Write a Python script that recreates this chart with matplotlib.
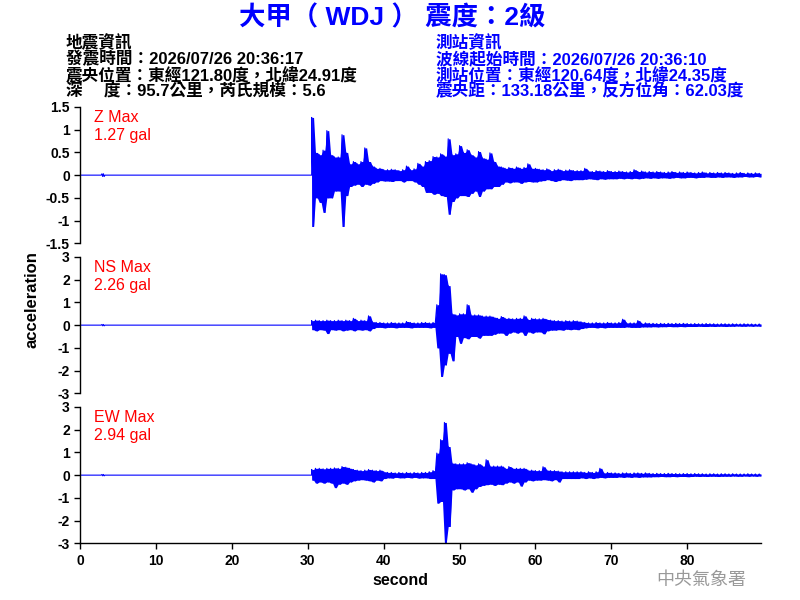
import numpy as np
import matplotlib
matplotlib.use("Agg")
import matplotlib.pyplot as plt
from matplotlib.ticker import FuncFormatter

plt.rcParams['font.family'] = ['Liberation Sans', 'Noto Sans CJK TC']

# peak readings (upper / lower) per 0.5 s bin, starting at 30.5 s
bin_start = 30.5
bin_step = 0.5

z_upper = [1.27, 0.5, 0.45, 0.55, 0.98, 0.45, 0.4, 0.4, 0.89, 0.5,
           0.25, 0.3, 0.25, 0.3, 0.6, 0.3, 0.2, 0.15, 0.15, 0.12,
           0.12, 0.13, 0.12, 0.1, 0.12, 0.2, 0.12, 0.14, 0.26, 0.2,
           0.3, 0.32, 0.41, 0.4, 0.47, 0.42, 0.8, 0.45, 0.47, 0.65,
           0.5, 0.56, 0.45, 0.4, 0.52, 0.38, 0.35, 0.49, 0.3, 0.2,
           0.18, 0.15, 0.17, 0.15, 0.18, 0.15, 0.17, 0.25, 0.15, 0.15,
           0.13, 0.12, 0.14, 0.1, 0.12, 0.13, 0.1, 0.11, 0.12, 0.1,
           0.1, 0.1, 0.15, 0.09, 0.08, 0.1, 0.09, 0.08, 0.1, 0.08,
           0.08, 0.09, 0.08, 0.07, 0.08, 0.12, 0.08, 0.09, 0.07, 0.08,
           0.07, 0.08, 0.07, 0.06, 0.07, 0.08, 0.06, 0.07, 0.06, 0.07,
           0.06, 0.05, 0.06, 0.07, 0.05, 0.06, 0.05, 0.06, 0.05, 0.06,
           0.05, 0.04, 0.05, 0.06, 0.04, 0.05, 0.04, 0.05, 0.04]
z_lower = [-1.13, -0.5, -0.6, -0.82, -0.5, -0.5, -0.35, -0.35, -1.13, -0.45,
           -0.25, -0.22, -0.2, -0.25, -0.2, -0.22, -0.18, -0.15, -0.12, -0.13,
           -0.13, -0.14, -0.12, -0.12, -0.15, -0.12, -0.12, -0.15, -0.2, -0.25,
           -0.38, -0.38, -0.42, -0.4, -0.45, -0.47, -0.86, -0.58, -0.5, -0.45,
           -0.45, -0.47, -0.4, -0.35, -0.47, -0.35, -0.3, -0.3, -0.25, -0.25,
           -0.2, -0.15, -0.17, -0.15, -0.15, -0.18, -0.15, -0.14, -0.15, -0.15,
           -0.13, -0.12, -0.1, -0.12, -0.14, -0.12, -0.1, -0.11, -0.12, -0.1,
           -0.1, -0.1, -0.09, -0.08, -0.09, -0.1, -0.08, -0.09, -0.08, -0.08,
           -0.08, -0.07, -0.08, -0.07, -0.08, -0.07, -0.08, -0.07, -0.06, -0.07,
           -0.06, -0.07, -0.06, -0.06, -0.07, -0.06, -0.05, -0.06, -0.06, -0.05,
           -0.05, -0.06, -0.05, -0.05, -0.04, -0.05, -0.05, -0.04, -0.05, -0.04,
           -0.04, -0.05, -0.04, -0.04, -0.03, -0.04, -0.04, -0.03, -0.04]

ns_upper = [0.2, 0.22, 0.2, 0.2, 0.22, 0.2, 0.2, 0.22, 0.2, 0.22,
            0.2, 0.3, 0.2, 0.22, 0.2, 0.41, 0.15, 0.12, 0.12, 0.1,
            0.1, 0.12, 0.1, 0.1, 0.1, 0.16, 0.12, 0.1, 0.1, 0.12,
            0.12, 0.1, 0.12, 0.9, 2.26, 2.22, 1.74, 0.5, 0.45, 0.5,
            0.5, 0.9, 0.45, 0.45, 0.45, 0.4, 0.4, 0.4, 0.35, 0.3,
            0.38, 0.3, 0.3, 0.28, 0.3, 0.3, 0.41, 0.25, 0.3, 0.28,
            0.28, 0.3, 0.25, 0.22, 0.2, 0.2, 0.18, 0.2, 0.18, 0.2,
            0.18, 0.15, 0.12, 0.1, 0.1, 0.12, 0.1, 0.1, 0.12, 0.1,
            0.1, 0.12, 0.26, 0.1, 0.1, 0.1, 0.2, 0.08, 0.1, 0.08,
            0.08, 0.07, 0.08, 0.07, 0.08, 0.07, 0.08, 0.07, 0.08, 0.07,
            0.06, 0.07, 0.06, 0.06, 0.07, 0.06, 0.06, 0.05, 0.06, 0.06,
            0.05, 0.06, 0.05, 0.05, 0.06, 0.05, 0.05, 0.04, 0.05]
ns_lower = [-0.2, -0.25, -0.2, -0.22, -0.37, -0.2, -0.22, -0.2, -0.25, -0.22,
            -0.2, -0.25, -0.2, -0.22, -0.2, -0.25, -0.15, -0.1, -0.1, -0.12,
            -0.1, -0.1, -0.12, -0.1, -0.1, -0.1, -0.12, -0.1, -0.1, -0.1,
            -0.1, -0.12, -0.1, -1.0, -2.26, -1.75, -1.24, -1.57, -0.5, -0.8,
            -0.55, -0.6, -0.5, -0.5, -0.57, -0.45, -0.45, -0.45, -0.4, -0.35,
            -0.35, -0.45, -0.35, -0.3, -0.35, -0.3, -0.45, -0.3, -0.35, -0.3,
            -0.3, -0.38, -0.25, -0.22, -0.22, -0.2, -0.22, -0.18, -0.2, -0.18,
            -0.2, -0.15, -0.12, -0.1, -0.1, -0.12, -0.1, -0.12, -0.1, -0.1,
            -0.1, -0.1, -0.1, -0.08, -0.1, -0.1, -0.1, -0.08, -0.08, -0.08,
            -0.07, -0.08, -0.07, -0.07, -0.06, -0.07, -0.07, -0.06, -0.07, -0.06,
            -0.06, -0.06, -0.05, -0.06, -0.06, -0.05, -0.06, -0.05, -0.05, -0.06,
            -0.05, -0.05, -0.04, -0.05, -0.05, -0.04, -0.05, -0.04, -0.05]

ew_upper = [0.25, 0.3, 0.3, 0.28, 0.3, 0.3, 0.32, 0.3, 0.38, 0.35,
            0.3, 0.25, 0.22, 0.2, 0.22, 0.25, 0.22, 0.2, 0.22, 0.15,
            0.12, 0.12, 0.1, 0.12, 0.1, 0.12, 0.1, 0.12, 0.1, 0.12,
            0.12, 0.15, 0.2, 0.97, 1.56, 2.32, 1.26, 0.53, 0.5, 0.5,
            0.5, 0.55, 0.5, 0.45, 0.5, 0.4, 0.68, 0.4, 0.4, 0.4,
            0.4, 0.3, 0.38, 0.3, 0.3, 0.3, 0.3, 0.22, 0.22, 0.2,
            0.2, 0.37, 0.22, 0.2, 0.2, 0.18, 0.15, 0.15, 0.15, 0.15,
            0.15, 0.15, 0.12, 0.15, 0.12, 0.15, 0.3, 0.1, 0.12, 0.1,
            0.1, 0.08, 0.1, 0.1, 0.08, 0.1, 0.1, 0.08, 0.1, 0.08,
            0.07, 0.08, 0.07, 0.07, 0.08, 0.07, 0.07, 0.06, 0.07, 0.07,
            0.06, 0.07, 0.06, 0.06, 0.05, 0.06, 0.06, 0.05, 0.06, 0.06,
            0.05, 0.06, 0.05, 0.05, 0.05, 0.06, 0.05, 0.05, 0.05]
ew_lower = [-0.22, -0.35, -0.3, -0.35, -0.3, -0.35, -0.55, -0.4, -0.35, -0.4,
            -0.3, -0.25, -0.22, -0.2, -0.22, -0.25, -0.3, -0.22, -0.25, -0.15,
            -0.12, -0.13, -0.1, -0.12, -0.12, -0.1, -0.12, -0.1, -0.13, -0.12,
            -0.12, -0.15, -0.15, -1.23, -1.16, -2.97, -2.26, -0.65, -0.6, -0.6,
            -0.65, -0.6, -0.75, -0.6, -0.5, -0.45, -0.42, -0.4, -0.45, -0.4,
            -0.42, -0.35, -0.3, -0.35, -0.3, -0.48, -0.3, -0.22, -0.25, -0.22,
            -0.22, -0.2, -0.22, -0.25, -0.2, -0.3, -0.15, -0.15, -0.15, -0.15,
            -0.15, -0.12, -0.15, -0.12, -0.15, -0.12, -0.1, -0.12, -0.1, -0.1,
            -0.1, -0.08, -0.1, -0.08, -0.1, -0.08, -0.1, -0.08, -0.08, -0.08,
            -0.07, -0.07, -0.06, -0.07, -0.07, -0.06, -0.07, -0.06, -0.06, -0.07,
            -0.06, -0.05, -0.06, -0.05, -0.06, -0.05, -0.05, -0.06, -0.05, -0.05,
            -0.05, -0.04, -0.05, -0.05, -0.04, -0.05, -0.04, -0.05, -0.04]

# quiet part before the arrival (small blip near 3 s)
pre_t = [0, 2.75, 2.85, 2.95, 3.05, 3.15, 3.25, 30.5]
pre_v = [0, 0, 0.03, -0.03, 0.03, -0.03, 0, 0]

components = ["Z", "NS", "EW"]
max_gal = ["1.27", "2.26", "2.94"]
ylims = [1.5, 3, 3]
yticks = [np.arange(-1.5, 1.51, 0.5), np.arange(-3, 3.1, 1), np.arange(-3, 3.1, 1)]
uppers = [z_upper, ns_upper, ew_upper]
lowers = [z_lower, ns_lower, ew_lower]

fig = plt.figure(figsize=(8, 6), dpi=100)
bottoms = [0.5945, 0.3445, 0.0945]
blue = "#0000ff"

for i in range(3):
    ax = fig.add_axes([0.1004, bottoms[i], 0.8505, 0.2272])
    up = np.array(uppers[i])
    lo = np.array(lowers[i])
    tb = bin_start + bin_step * np.arange(len(up))
    # peak then trough of each bin, joined as one trace
    tt = np.column_stack([tb, tb + bin_step / 2]).ravel()
    vv = np.column_stack([up, lo]).ravel()
    t = np.concatenate([pre_t, tt])
    v = np.concatenate([pre_v, vv])
    # dense shaking reads as a filled band between the bin peaks
    ax.fill_between(tt, np.repeat(lo, 2), np.repeat(up, 2), color=blue, lw=0)
    ax.plot(t, v, color=blue, lw=0.8)

    ax.set_xlim(0, 89.7)
    ax.set_ylim(-ylims[i], ylims[i])
    ax.set_yticks(yticks[i])
    ax.yaxis.set_major_formatter(FuncFormatter(lambda y, p: "%g" % round(y, 2)))
    for s in ["top", "right"]:
        ax.spines[s].set_visible(False)
    ax.spines["left"].set_linewidth(1.0)
    ax.tick_params(axis="y", direction="out", length=4, width=1.0, labelsize=10)
    for lb in ax.get_yticklabels():
        lb.set_fontweight("bold")
    if i < 2:
        ax.spines["bottom"].set_visible(False)
        ax.set_xticks([])
    else:
        ax.spines["bottom"].set_linewidth(1.0)
        ax.set_xticks(range(0, 81, 10))
        ax.tick_params(axis="x", direction="out", length=4, width=1.0, labelsize=10)
        for lb in ax.get_xticklabels():
            lb.set_fontweight("bold")
    ax.text(0.02, 0.975, components[i] + " Max\n" + max_gal[i] + " gal",
            transform=ax.transAxes, color="red", fontsize=11.5, va="top", ha="left",
            linespacing=1.25)

fig.text(0.49, 0.97, "大甲（ WDJ ） 震度：2級", color=blue, fontsize=19,
         fontweight="bold", ha="center", va="center")

left_info = ["地震資訊",
             "發震時間：2026/07/26 20:36:17",
             "震央位置：東經121.80度，北緯24.91度",
             "深\u3000 度：95.7公里，芮氏規模：5.6"]
right_info = ["測站資訊",
              "波線起始時間：2026/07/26 20:36:10",
              "測站位置：東經120.64度，北緯24.35度",
              "震央距：133.18公里，反方位角：62.03度"]
for k in range(4):
    y = 1 - (43 + 16 * k) / 600
    fig.text(66 / 800, y, left_info[k], color="black", fontsize=12,
             fontweight="bold", ha="left", va="center")
    fig.text(436 / 800, y, right_info[k], color=blue, fontsize=12,
             fontweight="bold", ha="left", va="center")

fig.text(0.04, 0.5, "acceleration", rotation=90, fontsize=12, fontweight="bold",
         ha="center", va="center")
fig.text(0.501, 0.033, "second", fontsize=11.5, fontweight="bold", ha="center", va="center")
fig.text(0.876, 0.033, "中央氣象署", fontsize=13, color="#999999",
         ha="center", va="center")

fig.savefig("out.png", dpi=100)
